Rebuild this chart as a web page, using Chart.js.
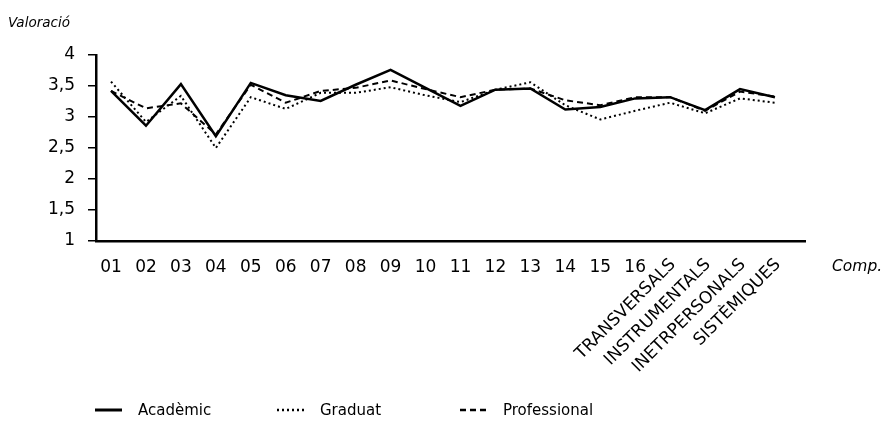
<!DOCTYPE html>
<html lang="ca">
<head>
<meta charset="utf-8">
<title>Valoració per competència</title>
<script src="https://cdn.jsdelivr.net/npm/chart.js@4.4.1/dist/chart.umd.min.js"></script>
<style>
  html, body { margin: 0; padding: 0; background: #fff; }
  #wrap { position: relative; width: 883px; height: 423px; }
</style>
</head>
<body>
<div id="wrap"><canvas id="valoracioChart"></canvas></div>
<script>
// Competències avaluades
const competencies = ['01', '02', '03', '04', '05', '06', '07', '08', '09', '10', '11', '12', '13', '14', '15', '16',
    'TRANSVERSALS', 'INSTRUMENTALS', 'INETRPERSONALS', 'SISTÈMIQUES'];

// Valoració mitjana per col·lectiu
const academic     = [3.42, 2.86, 3.53, 2.69, 3.55, 3.35, 3.26, 3.52, 3.76, 3.47, 3.18, 3.44, 3.46, 3.12, 3.16, 3.30, 3.32, 3.11, 3.45, 3.32];
const graduat      = [3.57, 2.92, 3.34, 2.50, 3.32, 3.13, 3.39, 3.39, 3.48, 3.35, 3.24, 3.44, 3.56, 3.19, 2.96, 3.10, 3.23, 3.06, 3.30, 3.23];
const professional = [3.42, 3.14, 3.22, 2.72, 3.52, 3.23, 3.42, 3.47, 3.59, 3.45, 3.32, 3.44, 3.46, 3.27, 3.19, 3.32, 3.32, 3.10, 3.41, 3.33];

// Eix Y
const yTicks = [1, 1.5, 2, 2.5, 3, 3.5, 4];

const FONT = '"DejaVu Sans", Verdana, sans-serif';

const toPoints = arr => arr.map((v, i) => ({ x: i, y: v }));

const series = [
    { label: 'Acadèmic', data: academic, dash: [], width: 2.5 },
    { label: 'Graduat', data: graduat, dash: [2, 3], width: 2 },
    { label: 'Professional', data: professional, dash: [6, 4], width: 2 }
];

// Etiquetes de l'eix X, títols i llegenda dibuixats a mà
const extrasPlugin = {
    id: 'extras',
    afterDraw(chart) {
        const ctx = chart.ctx;
        const xs = chart.scales.x;
        ctx.save();
        ctx.fillStyle = '#000';

        // etiquetes de categoria
        ctx.font = '17px ' + FONT;
        competencies.forEach((c, i) => {
            const px = xs.getPixelForValue(i);
            if (i < 16) {
                ctx.textAlign = 'center';
                ctx.textBaseline = 'alphabetic';
                ctx.fillText(c, px, 272);
            } else {
                ctx.save();
                ctx.translate(px + 3, 262);
                ctx.rotate(-Math.PI / 4);
                ctx.textAlign = 'right';
                ctx.textBaseline = 'middle';
                ctx.fillText(c, 0, 0);
                ctx.restore();
            }
        });

        // títols d'eixos
        ctx.font = 'italic 13.5px ' + FONT;
        ctx.textAlign = 'left';
        ctx.textBaseline = 'alphabetic';
        ctx.fillText('Valoració', 8, 27);
        ctx.font = 'italic 15.5px ' + FONT;
        ctx.fillText('Comp.', 832, 271);

        // llegenda
        const legendX = [95, 277, 460];
        const legendY = 410;
        ctx.font = '15px ' + FONT;
        series.forEach((s, k) => {
            const x0 = legendX[k];
            ctx.beginPath();
            ctx.setLineDash(s.dash);
            ctx.lineWidth = s.width + 0.5;
            ctx.strokeStyle = '#000';
            ctx.moveTo(x0, legendY);
            ctx.lineTo(x0 + 27, legendY);
            ctx.stroke();
            ctx.setLineDash([]);
            ctx.textAlign = 'left';
            ctx.textBaseline = 'middle';
            ctx.fillText(s.label, x0 + 43, legendY + 1);
        });
        ctx.restore();
    }
};

const ctx = document.getElementById('valoracioChart').getContext('2d');
const valoracioChart = new Chart(ctx, {
    type: 'line',
    data: {
        datasets: series.map(s => ({
            label: s.label,
            data: toPoints(s.data),
            borderColor: '#000',
            borderWidth: s.width,
            borderDash: s.dash,
            pointRadius: 0,
            tension: 0,
            fill: false
        }))
    },
    options: {
        responsive: true,
        maintainAspectRatio: false,
        animation: false,
        layout: {
            padding: { top: 55, right: 78, bottom: 0, left: 0 }
        },
        scales: {
            x: {
                type: 'linear',
                min: -0.43,
                max: 19.86,
                grid: { display: false },
                border: { display: true, color: '#000', width: 2.5 },
                ticks: { display: false },
                afterFit(scale) { scale.height = 182; }
            },
            y: {
                min: 1,
                max: 4,
                afterBuildTicks(scale) { scale.ticks = yTicks.map(v => ({ value: v })); },
                grid: {
                    display: true,
                    drawOnChartArea: false,
                    drawTicks: true,
                    tickLength: 8,
                    color: '#000',
                    lineWidth: 1.5
                },
                border: { display: true, color: '#000', width: 2.5 },
                ticks: {
                    color: '#000',
                    padding: 13,
                    font: { family: FONT, size: 17 },
                    callback: v => String(v).replace('.', ',')
                },
                afterFit(scale) { scale.width = 96; }
            }
        },
        plugins: {
            legend: { display: false },
            tooltip: { enabled: false }
        }
    },
    plugins: [extrasPlugin]
});
</script>
</body>
</html>
